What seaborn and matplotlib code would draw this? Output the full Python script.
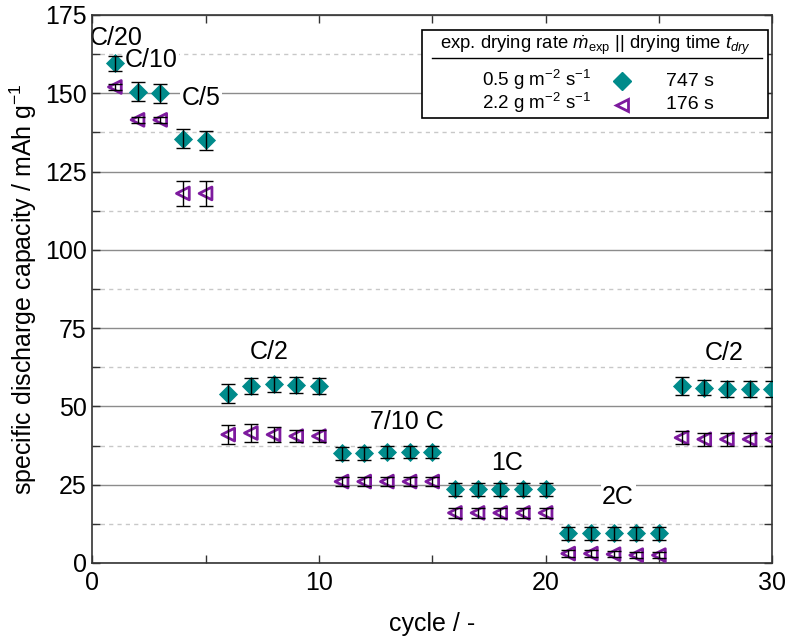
import numpy as np
import pandas as pd
import seaborn as sns
import matplotlib.pyplot as plt
from matplotlib.patches import Rectangle
from matplotlib.ticker import MultipleLocator

cycles = list(range(1, 31))
cap_slow = [159.5, 150.5, 150.0, 135.5, 135.0,
            54.0, 56.5, 57.0, 56.8, 56.5,
            35.0, 35.0, 35.5, 35.5, 35.5,
            23.5, 23.5, 23.5, 23.5, 23.5,
            9.5, 9.5, 9.5, 9.5, 9.5,
            56.5, 56.0, 55.5, 55.5, 55.5]
err_slow = [2.5, 3.0, 3.0, 3.0, 3.0,
            3.0, 2.5, 2.5, 2.5, 2.5,
            2.0, 2.0, 2.0, 2.0, 2.0,
            2.0, 2.0, 2.0, 2.0, 2.0,
            2.0, 2.0, 2.0, 2.0, 2.0,
            3.0, 2.5, 2.5, 2.5, 2.5]
cap_fast = [152.0, 141.5, 141.5, 118.0, 118.0,
            41.0, 41.5, 41.0, 40.5, 40.5,
            26.0, 26.0, 26.0, 26.0, 26.0,
            16.0, 16.0, 16.0, 16.0, 16.0,
            3.0, 3.0, 2.8, 2.5, 2.5,
            40.0, 39.5, 39.5, 39.5, 39.5]
err_fast = [1.0, 1.0, 1.0, 4.0, 4.0,
            3.0, 3.0, 2.5, 2.0, 2.0,
            1.5, 1.5, 1.5, 1.5, 1.5,
            1.5, 1.5, 1.5, 1.5, 1.5,
            1.0, 1.0, 1.0, 1.0, 1.0,
            2.0, 2.0, 2.0, 2.0, 2.0]

rate_labels = ['C/20', 'C/10', 'C/5', 'C/2', '7/10 C', '1C', '2C', 'C/2']
rate_x = [1.05, 2.6, 4.8, 7.8, 13.9, 18.3, 23.2, 27.9]
rate_y = [167.5, 160.5, 148.5, 67.5, 45, 32, 21, 67]

teal = '#008b8b'
purple = '#7d1a9e'

plt.rcParams['font.family'] = ['Liberation Sans', 'DejaVu Sans']
plt.rcParams['mathtext.fontset'] = 'custom'
plt.rcParams['mathtext.rm'] = 'Liberation Sans'
plt.rcParams['mathtext.it'] = 'Liberation Sans:italic'

df = pd.DataFrame({'cycle': cycles + cycles,
                   'cap': cap_slow + cap_fast,
                   'err': err_slow + err_fast,
                   'rate': ['0.5'] * 30 + ['2.2'] * 30})

fig = plt.figure(figsize=(7.88, 6.41), dpi=100)
ax = fig.add_axes([0.117, 0.1217, 0.863, 0.855])

# grid
ax.yaxis.set_major_locator(MultipleLocator(25))
ax.yaxis.set_minor_locator(MultipleLocator(12.5))
ax.xaxis.set_major_locator(MultipleLocator(10))
ax.xaxis.set_minor_locator(MultipleLocator(5))
ax.grid(axis='y', which='major', color='#8c8c8c', lw=1, zorder=0)
ax.grid(axis='y', which='minor', color='#c8c8c8', lw=1, ls=(0, (3, 3)), zorder=0)
ax.set_axisbelow(True)

sns.scatterplot(data=df[df.rate == '0.5'], x='cycle', y='cap', marker='D',
                s=95, color=teal, edgecolor=teal, linewidth=0, ax=ax, zorder=3)
sns.scatterplot(data=df[df.rate == '2.2'], x='cycle', y='cap', marker='<',
                s=85, facecolor='none', edgecolor=purple, linewidth=2,
                ax=ax, zorder=3)
for sub in [df[df.rate == '0.5'], df[df.rate == '2.2']]:
    ax.errorbar(sub['cycle'], sub['cap'], yerr=sub['err'], fmt='none',
                ecolor='black', elinewidth=1, capsize=5, capthick=1, zorder=4)

for lab, x, y in zip(rate_labels, rate_x, rate_y):
    ax.text(x, y, lab, ha='center', va='center', fontsize=18, zorder=2,
            bbox=dict(facecolor='white', edgecolor='none', pad=1))

ax.set_xlim(0, 30)
ax.set_ylim(0, 175)
ax.set_xlabel('cycle / -', fontsize=18, labelpad=12)
ax.set_ylabel('specific discharge capacity / mAh g$^{-1}$', fontsize=18, labelpad=4)
ax.tick_params(which='both', direction='in', top=True, right=True,
               labelsize=18, width=1, color='#333333')
ax.tick_params(which='major', length=6)
ax.tick_params(which='minor', length=6)
ax.tick_params(axis='x', pad=6)
ax.tick_params(axis='y', pad=4)
for sp in ax.spines.values():
    sp.set_color('#333333')
    sp.set_linewidth(1.2)

# legend table
box = Rectangle((0.485, 0.812), 0.509, 0.16, transform=ax.transAxes,
                facecolor='white', edgecolor='black', lw=1.2, zorder=5)
ax.add_patch(box)
ax.text(0.74, 0.945, r'exp. drying rate $\dot{m}_{\rm exp}$ || drying time $t_{dry}$',
        transform=ax.transAxes, ha='center', va='center', fontsize=13.3, zorder=6)
ax.plot([0.5, 0.985], [0.922, 0.922], transform=ax.transAxes, color='black',
        lw=1, zorder=6)
ax.text(0.654, 0.882, r'0.5 g m$^{-2}$ s$^{-1}$', transform=ax.transAxes,
        ha='center', va='center', fontsize=13.5, zorder=6)
ax.text(0.654, 0.839, r'2.2 g m$^{-2}$ s$^{-1}$', transform=ax.transAxes,
        ha='center', va='center', fontsize=13.5, zorder=6)
ax.plot([0.779], [0.879], transform=ax.transAxes, marker='D', ms=9,
        color=teal, ls='none', zorder=6, clip_on=False)
ax.plot([0.779], [0.836], transform=ax.transAxes, marker='<', ms=9,
        mfc='none', mec=purple, mew=2, ls='none', zorder=6, clip_on=False)
ax.text(0.879, 0.879, '747 s', transform=ax.transAxes, ha='center',
        va='center', fontsize=14, zorder=6)
ax.text(0.879, 0.836, '176 s', transform=ax.transAxes, ha='center',
        va='center', fontsize=14, zorder=6)

plt.savefig('out.png', dpi=100)
